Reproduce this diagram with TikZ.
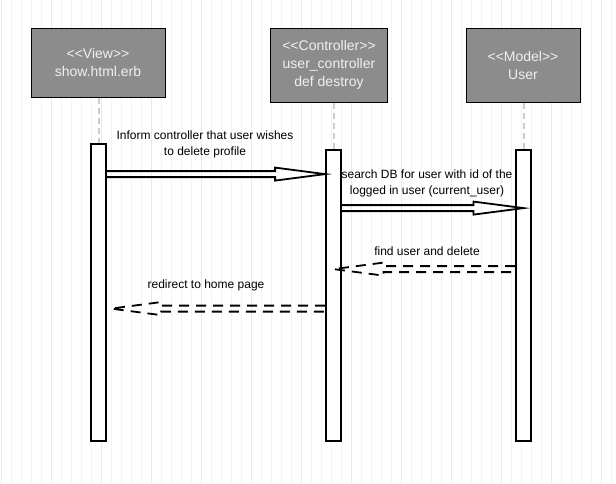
\documentclass[tikz,border=0pt]{standalone}
\usepackage{fontspec}
\setmainfont{Liberation Sans}
\usepackage{xcolor}
\usetikzlibrary{calc}

\definecolor{boxgray}{HTML}{8C8C8C}
\definecolor{boxtext}{HTML}{F0F0F0}
\definecolor{lifegray}{HTML}{CCCCCC}
\definecolor{gridminor}{HTML}{F3F3F3}
\definecolor{gridmajor}{HTML}{E9E9E9}

\begin{document}
\begin{tikzpicture}[x=1pt, y=-1pt,
    lifebox/.style={draw, fill=boxgray, text=boxtext, line width=1pt, align=center, inner sep=0pt, font=\fontsize{14}{18}\selectfont},
    actbar/.style={draw, fill=white, line width=1.8pt, minimum width=15pt, inner sep=0pt},
    lifeline/.style={draw=lifegray, line width=2pt, dash pattern=on 6pt off 4pt},
    msg/.style={line width=1.8pt, line join=miter, to path={
        ($(\tikztostart)+(0,3pt)$) -- ($(\tikztotarget)!50pt!(\tikztostart)+(0,3pt)$)
        -- ($(\tikztotarget)!50pt!(\tikztostart)+(0,6.5pt)$) -- (\tikztotarget)
        -- ($(\tikztotarget)!50pt!(\tikztostart)+(0,-6.5pt)$) -- ($(\tikztotarget)!50pt!(\tikztostart)+(0,-3pt)$)
        -- ($(\tikztostart)+(0,-3pt)$)}},
    ret/.style={msg, dash pattern=on 10pt off 7pt},
    msglabel/.style={align=center, font=\fontsize{12}{16}\selectfont}]
        \useasboundingbox (0,0) rectangle (616,483);
        
        % Grid
        \draw[gridminor, line width=0.5pt, step=10, shift={(1.7,3.3)}] (-1.7,-3.3) grid (614.3,479.7);
        \draw[gridmajor, line width=0.5pt, step=50, shift={(1.7,13.3)}] (-1.7,-13.3) grid (614.3,469.7);
        
        % Lifeline heads
        \node (vbox) at (98,62.5) [lifebox, minimum width=134pt, minimum height=69pt] {<{}<View>{}>\\show.html.erb};
        \node (cbox) at (329,65) [lifebox, minimum width=117pt, minimum height=74pt] {<{}<Controller>{}>\\user\_controller\\def destroy};
        \node (mbox) at (523,65) [lifebox, minimum width=114pt, minimum height=74pt] {<{}<Model>{}>\\User};
        
        % Activation bars
        \node (vbar) at (98.5,292.5) [actbar, minimum height=297pt] {};
        \node (cbar) at (333.5,295.5) [actbar, minimum height=291pt] {};
        \node (mbar) at (523.5,295.5) [actbar, minimum height=291pt] {};
        
        % Dashed lifelines
        \draw[lifeline] (vbar.north |- vbox.south) -- (vbar.north);
        \draw[lifeline] (cbar.north |- cbox.south) -- (cbar.north);
        \draw[lifeline] (mbar.north |- mbox.south) -- (mbar.north);
        
        % Messages
        \draw[msg] ([yshift=-31pt]vbar.north east) to ([yshift=-25pt]cbar.north west);
        \draw[msg] ([yshift=-59pt]cbar.north east) to ([yshift=-59pt]mbar.north);
        
        % Returns
        \draw[ret] ([yshift=-120pt]mbar.north west) to ([yshift=-120pt]cbar.north);
        \draw[ret] ([yshift=-159.5pt]cbar.north west) to ([xshift=4pt, yshift=-165.5pt]vbar.north east);
        
        % Labels
        \node (inform) at (205,144) [msglabel] {Inform controller that user wishes\\to delete profile};
        \node (search) at (427,183) [msglabel] {search DB for user with id of the\\logged in user (current\_user)};
        \node (find) at (427,251) [msglabel] {find user and delete};
        \node (redirect) at (206,285) [msglabel] {redirect to home page};

    \end{tikzpicture}
\end{document}
